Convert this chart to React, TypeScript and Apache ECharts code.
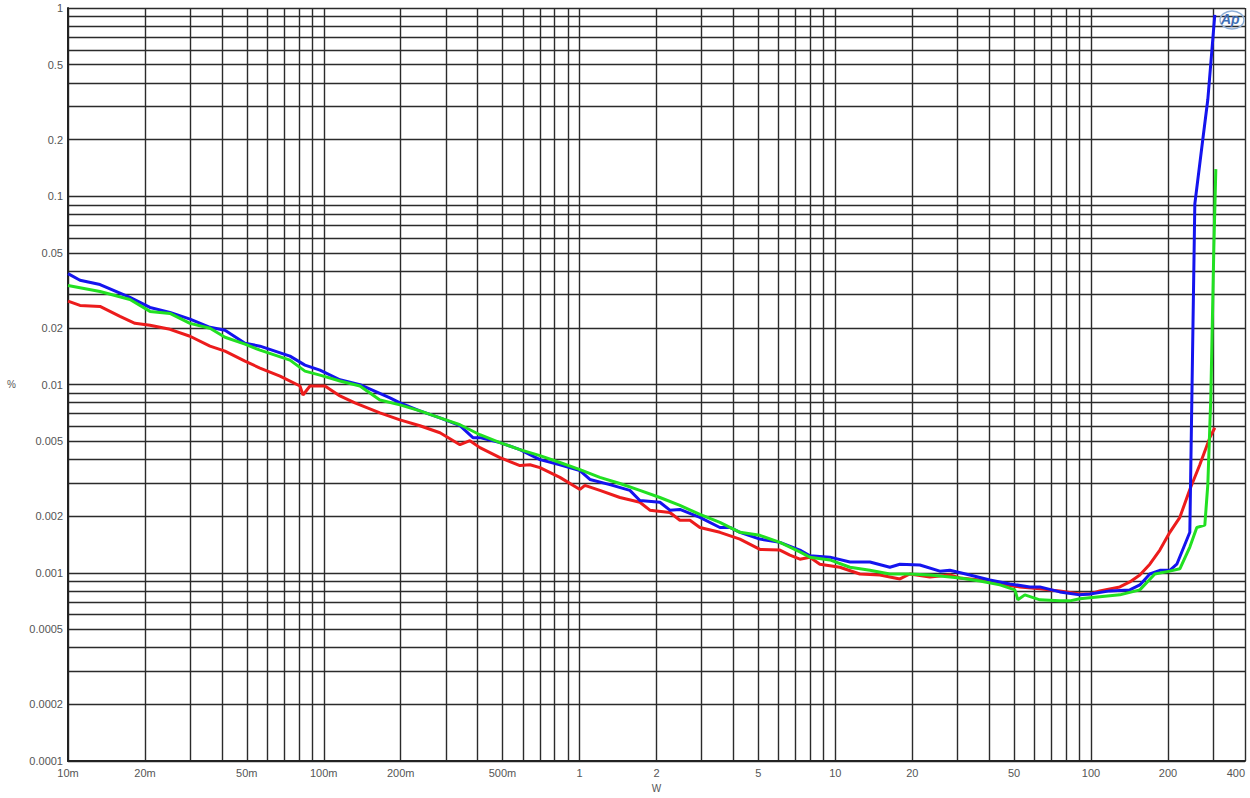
import React, { useEffect, useRef } from "react";
import * as echarts from "echarts";

// Tick label positions
const xLabelValues = [0.01, 0.02, 0.05, 0.1, 0.2, 0.5, 1, 2, 5, 10, 20, 50, 100, 200, 400];
const yLabelValues = [0.0001, 0.0002, 0.0005, 0.001, 0.002, 0.005, 0.01, 0.02, 0.05, 0.1, 0.2, 0.5, 1];

// Blue series (W, %)
const blueW = [
  0.01, 0.01114, 0.01334, 0.01747, 0.02092, 0.02504, 0.02999, 0.03591, 0.0411, 0.0492,
  0.05632, 0.07378, 0.08444, 0.09663, 0.1157, 0.1385, 0.1815, 0.1986, 0.2377, 0.2847,
  0.3409, 0.3831, 0.4079, 0.4885, 0.5848, 0.7002, 0.8383, 1.004, 1.098, 1.314,
  1.574, 1.722, 2.062, 2.256, 2.469, 2.956, 3.539, 3.873, 4.238, 5.074,
  6.074, 7.272, 7.957, 9.526, 11.41, 13.66, 16.35, 17.89, 21.42, 25.64,
  28.05, 33.59, 40.22, 48.15, 57.64, 63.08, 75.51, 90.41, 98.92, 118.4,
  141.8, 155.2, 169.8, 185.8, 203.3, 216.5, 243.4, 254.6, 273.6, 286.2, 304.8,
];
const bluePct = [
  0.03883, 0.03579, 0.03396, 0.02901, 0.02567, 0.02415, 0.02226, 0.02012, 0.01941, 0.01657,
  0.01598, 0.01415, 0.01268, 0.01193, 0.0106, 0.00998, 0.00849, 0.00798, 0.00724, 0.00665,
  0.00604, 0.00522, 0.00522, 0.00491, 0.00451, 0.00399, 0.00375, 0.00349, 0.00313, 0.00294,
  0.00274, 0.00242, 0.00237, 0.00215, 0.00217, 0.00197, 0.00174, 0.00174, 0.00164, 0.00151,
  0.00145, 0.00132, 0.00123, 0.00121, 0.00114, 0.00114, 0.00107, 0.00111, 0.0011, 0.00102,
  0.00103, 0.000973, 0.000916, 0.000872, 0.000841, 0.000841, 0.000791, 0.000763, 0.000772, 0.000801,
  0.000811, 0.000862, 0.000985, 0.00103, 0.00103, 0.00111, 0.00164, 0.091, 0.2007, 0.3265, 0.9183,
];

// Green series (W, %)
const greenW = [
  0.01, 0.01334, 0.01747, 0.02092, 0.02504, 0.02999, 0.03591, 0.0411, 0.0492, 0.05632,
  0.07378, 0.08444, 0.09663, 0.1157, 0.1385, 0.1658, 0.1986, 0.2377, 0.2847, 0.3409,
  0.4079, 0.4885, 0.5848, 0.7002, 0.8383, 1.004, 1.201, 1.439, 1.722, 2.062,
  2.469, 2.956, 3.539, 4.238, 5.074, 6.074, 7.272, 7.957, 9.526, 11.41,
  13.66, 16.35, 19.57, 23.43, 30.7, 36.75, 44.0, 50.37, 51.75, 55.11,
  63.08, 75.51, 82.62, 90.41, 108.2, 129.6, 155.2, 177.6, 203.3, 222.5,
  243.4, 259.2, 278.6, 286.2, 294.0, 302.1, 307.6,
];
const greenPct = [
  0.03355, 0.03119, 0.0283, 0.02445, 0.02386, 0.02113, 0.01988, 0.01782, 0.01637, 0.01522,
  0.01348, 0.01178, 0.01122, 0.01043, 0.00982, 0.00828, 0.00779, 0.00724, 0.00665, 0.00611,
  0.00541, 0.00491, 0.00451, 0.00419, 0.00385, 0.00353, 0.00321, 0.00298, 0.00274, 0.00251,
  0.00228, 0.00204, 0.00185, 0.00164, 0.00158, 0.00145, 0.00129, 0.00121, 0.00117, 0.00107,
  0.00103, 0.000985, 0.000985, 0.000973, 0.000938, 0.000904, 0.000862, 0.000811, 0.000718, 0.000763,
  0.000718, 0.000709, 0.000709, 0.000727, 0.000745, 0.000763, 0.000811, 0.000985, 0.00102, 0.00105,
  0.00137, 0.00174, 0.00179, 0.00294, 0.00849, 0.0526, 0.1393,
];

// Red series (W, %)
const redW = [
  0.01, 0.01114, 0.01334, 0.01597, 0.01827, 0.02092, 0.02504, 0.02999, 0.03591, 0.0411,
  0.0492, 0.05632, 0.06744, 0.08072, 0.08293, 0.08834, 0.1011, 0.1157, 0.1324, 0.1658,
  0.1986, 0.2377, 0.2847, 0.3409, 0.3728, 0.4079, 0.4885, 0.5848, 0.64, 0.7002,
  0.8383, 1.004, 1.05, 1.201, 1.439, 1.722, 1.884, 2.256, 2.469, 2.702,
  2.956, 3.539, 4.238, 5.074, 6.074, 6.646, 7.272, 7.957, 8.707, 10.42,
  12.48, 14.94, 17.89, 19.57, 23.43, 28.05, 30.7, 36.75, 44.0, 52.69,
  63.08, 75.51, 90.41, 98.92, 108.2, 129.6, 141.8, 155.2, 169.8, 185.8,
  203.3, 222.5, 243.4, 266.3, 291.4, 304.8,
];
const redPct = [
  0.02772, 0.0263, 0.02599, 0.02301, 0.02113, 0.02063, 0.01964, 0.01805, 0.01598, 0.01503,
  0.01331, 0.01223, 0.01109, 0.00982, 0.0088, 0.00982, 0.00982, 0.00869, 0.00798, 0.00707,
  0.00649, 0.00604, 0.00554, 0.00479, 0.00503, 0.00462, 0.00409, 0.00371, 0.00375, 0.00362,
  0.00321, 0.00277, 0.00291, 0.00274, 0.00251, 0.00237, 0.00215, 0.00209, 0.0019, 0.0019,
  0.00174, 0.00164, 0.00151, 0.00133, 0.00132, 0.00124, 0.00118, 0.00121, 0.00111, 0.00107,
  0.000985, 0.000973, 0.000927, 0.000985, 0.00095, 0.000973, 0.000938, 0.000916, 0.000872, 0.000841,
  0.000821, 0.000801, 0.000772, 0.000772, 0.000801, 0.000841, 0.000894, 0.000973, 0.00111, 0.00132,
  0.00164, 0.00197, 0.00277, 0.00375, 0.00522, 0.00589,
];

const FONT = "'Liberation Sans', Arial, sans-serif";

function clean(v: number): number {
  return Number(v.toPrecision(6));
}

function fmtX(v: number): string {
  if (v < 1) return Math.round(v * 1000) + "m";
  return String(clean(v));
}

function fmtY(v: number): string {
  return String(clean(v));
}

export default function App() {
  const ref = useRef<HTMLDivElement>(null);

  useEffect(() => {
    if (!ref.current) return;
    const chart = echarts.init(ref.current, null, { renderer: "svg" });

    const xGrid: number[] = [];
    for (let e = -2; e <= 1; e++) {
      for (let m = 1; m <= 9; m++) xGrid.push(clean(m * Math.pow(10, e)));
    }
    xGrid.push(100, 200, 300, 400);
    const yGrid: number[] = [];
    for (let e = -4; e <= -1; e++) {
      for (let m = 1; m <= 9; m++) yGrid.push(clean(m * Math.pow(10, e)));
    }
    yGrid.push(1);

    const zip = (xs: number[], ys: number[]) => xs.map((x, i) => [x, ys[i]]);

    const lineSeries = (name: string, color: string, data: number[][]) => ({
      name,
      type: "line",
      data,
      showSymbol: false,
      symbol: "none",
      silent: true,
      clip: true,
      lineStyle: { color, width: 3 },
      z: 5,
    });

    chart.setOption({
      animation: false,
      backgroundColor: "#ffffff",
      textStyle: { fontFamily: FONT },
      grid: { left: 68, right: 5, top: 8, bottom: 33 },
      xAxis: {
        type: "log",
        logBase: 10,
        min: 0.01,
        max: 400,
        name: "W",
        nameLocation: "middle",
        nameGap: 22,
        nameTextStyle: { color: "#555", fontSize: 10, fontFamily: FONT },
        axisLine: { show: true, lineStyle: { color: "#222", width: 2 } },
        axisTick: { show: false, customValues: xGrid },
        splitLine: { show: true, lineStyle: { color: "#2b2b2b", width: 1.4 } },
        axisLabel: {
          customValues: xLabelValues,
          formatter: (v: number) => fmtX(v),
          color: "#555",
          fontSize: 11,
          margin: 6,
          fontFamily: FONT,
          alignMaxLabel: "right",
        },
      },
      yAxis: {
        type: "log",
        logBase: 10,
        min: 0.0001,
        max: 1,
        name: "%",
        nameLocation: "middle",
        nameRotate: 0,
        nameGap: 52,
        nameTextStyle: { color: "#555", fontSize: 10, fontFamily: FONT },
        axisLine: { show: true, lineStyle: { color: "#222", width: 2 } },
        axisTick: { show: false, customValues: yGrid },
        splitLine: { show: true, lineStyle: { color: "#2b2b2b", width: 1.4 } },
        axisLabel: {
          customValues: yLabelValues,
          formatter: (v: number) => fmtY(v),
          color: "#555",
          fontSize: 11,
          margin: 5,
          fontFamily: FONT,
        },
      },
      graphic: [
        {
          type: "ellipse",
          shape: { cx: 1232, cy: 20, rx: 12, ry: 9 },
          style: { fill: "none", stroke: "#8fb0d8", lineWidth: 1.3 },
          z: 10,
        },
        {
          type: "text",
          x: 1221,
          y: 12,
          style: {
            text: "Ap",
            fill: "#3f6fb5",
            font: "italic bold 14px " + FONT,
          },
          z: 10,
        },
      ],
      series: [
        lineSeries("red", "#ec1c1c", zip(redW, redPct)),
        lineSeries("blue", "#1414ee", zip(blueW, bluePct)),
        lineSeries("green", "#22e022", zip(greenW, greenPct)),
      ],
    });

    return () => {
      chart.dispose();
    };
  }, []);

  return (
    <div
      ref={ref}
      style={{ position: "fixed", left: 0, top: 0, width: 1250, height: 798, background: "#fff" }}
    />
  );
}
